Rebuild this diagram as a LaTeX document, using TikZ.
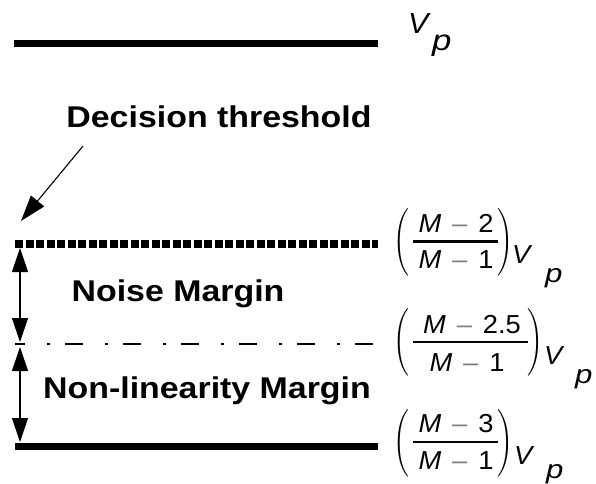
\documentclass[tikz,border=0pt]{standalone}
\usepackage{fontspec}
\setmainfont{Liberation Sans}
\usetikzlibrary{arrows.meta}
\newcommand{\Mexpr}[1]{\scalebox{1.05}[1]{\textit{M}\hspace{0.4em}\textcolor{gray}{–}\hspace{0.4em}#1}}
\newcommand{\wideV}{\scalebox{1.05}[1]{\textit{V}}}
\newcommand{\widep}{\scalebox{1.2}[1]{\textit{p}}}
\newcommand{\lparen}{\scalebox{2.0}[2.25]{$\mathchar"0320$}}
\newcommand{\rparen}{\scalebox{2.0}[2.25]{$\mathchar"0321$}}
\tikzset{
  solidlvl/.style={line width=7pt},
  thresh/.style={line width=8pt, dash pattern=on 8pt off 2.5pt},
  midlvl/.style={line width=1.3pt, dash pattern=on 18pt off 22pt on 3pt off 15pt, dash phase=8pt},
  dbl/.style={line width=1.2pt, {Triangle[width=16pt,length=24pt]}-{Triangle[width=16pt,length=24pt]}},
  pointer/.style={line width=1.1pt, -{Triangle[width=17pt,length=26pt]}},
  lbl/.style={font=\fontsize{30}{36}\selectfont\bfseries, inner sep=0pt},
  mth/.style={font=\fontsize{26}{30}\selectfont, inner sep=0pt},
  mthtop/.style={font=\fontsize{29}{34}\selectfont, inner sep=0pt},
  par/.style={font=\fontsize{10}{12}\selectfont, inner sep=0pt},
  frule/.style={line width=2.2pt},
}
\begin{document}
\begin{tikzpicture}[x=1pt,y=-1pt]
\useasboundingbox (0,0) rectangle (596,483);
% level lines
\coordinate (a1) at (14,43);  \coordinate (a2) at (378,43);
\coordinate (b1) at (15,244); \coordinate (b2) at (378,244);
\coordinate (c1) at (15,344); \coordinate (c2) at (378,344);
\coordinate (d1) at (15,446); \coordinate (d2) at (378,446);
\draw[solidlvl] (a1) -- (a2);
\draw[thresh] (b1) -- (b2);
\draw[midlvl] (c1) -- (c2);
\draw[solidlvl] (d1) -- (d2);
% margin arrows
\coordinate (u1) at (20,248); \coordinate (u2) at (20,342);
\coordinate (u3) at (20,347); \coordinate (u4) at (20,442);
\draw[dbl] (u1) -- (u2);
\draw[dbl] (u3) -- (u4);
% labels
\node[lbl, anchor=base] (dt) at (219,127) {\scalebox{1.13}[1]{Decision threshold}};
\node[lbl, anchor=base] (nm) at (178,301) {\scalebox{1.13}[1]{Noise Margin}};
\node[lbl, anchor=base] (nl) at (207,398) {\scalebox{1.13}[1]{Non-linearity Margin}};
% pointer
\coordinate (ps) at (83,146); \coordinate (pe) at (21,221);
\draw[pointer] (ps) -- (pe);
% V_p top
\node[mthtop, anchor=base west] (v0) at (408,33) {\wideV};
\node[mthtop, anchor=base west] (p0) at (432,50) {\widep};
% fraction 1
\node[mth, anchor=base] (n1) at (456,232) {\Mexpr{2}};
\node[mth, anchor=base] (m1) at (456,268) {\Mexpr{1}};
\coordinate (r1a) at (413,241.5); \coordinate (r1b) at (498,241.5);
\draw[frule] (r1a) -- (r1b);
\node[par] (l1) at (401,242) {\lparen};
\node[par] (q1) at (505,242) {\rparen};
\node[mth, anchor=base west] (v1) at (512,263) {\wideV};
\node[mth, anchor=base west] (p1) at (545,282) {\widep};
% fraction 2
\node[mth, anchor=base] (n2) at (472,333) {\Mexpr{2.5}};
\node[mth, anchor=base] (m2) at (467,371) {\Mexpr{1}};
\coordinate (r2a) at (413,342); \coordinate (r2b) at (528,342);
\draw[frule] (r2a) -- (r2b);
\node[par] (l2) at (401,342) {\lparen};
\node[par] (q2) at (535,342) {\rparen};
\node[mth, anchor=base west] (v2) at (544,364) {\wideV};
\node[mth, anchor=base west] (p2) at (575,383) {\widep};
% fraction 3
\node[mth, anchor=base] (n3) at (456,432) {\Mexpr{3}};
\node[mth, anchor=base] (m3) at (456,469) {\Mexpr{1}};
\coordinate (r3a) at (413,442); \coordinate (r3b) at (498,442);
\draw[frule] (r3a) -- (r3b);
\node[par] (l3) at (401,443) {\lparen};
\node[par] (q3) at (505,443) {\rparen};
\node[mth, anchor=base west] (v3) at (514,464) {\wideV};
\node[mth, anchor=base west] (p3) at (546,478) {\widep};
\end{tikzpicture}
\end{document}
